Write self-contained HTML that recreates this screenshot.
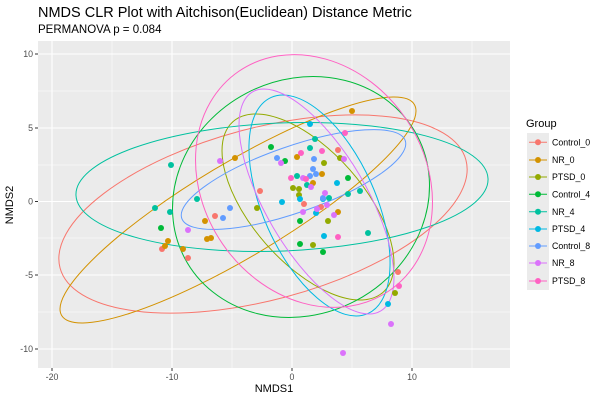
<!DOCTYPE html>
<html><head><meta charset="utf-8"><style>
body{margin:0;background:#fff;}
svg{display:block;font-family:"Liberation Sans","DejaVu Sans",sans-serif;}
</style></head><body>
<svg width="600" height="400" viewBox="0 0 600 400" xmlns="http://www.w3.org/2000/svg">
<rect width="600" height="400" fill="#fff"/>
<text x="38" y="17" font-size="14.5" fill="#000">NMDS CLR Plot with Aitchison(Euclidean) Distance Metric</text>
<text x="38" y="33" font-size="11.5" fill="#000">PERMANOVA p = 0.084</text>
<rect x="38" y="41" width="472" height="327" fill="#ebebeb"/>
<g stroke="#fff" stroke-width="0.55">
<line x1="112" y1="41" x2="112" y2="368"/><line x1="232" y1="41" x2="232" y2="368"/><line x1="352" y1="41" x2="352" y2="368"/><line x1="472" y1="41" x2="472" y2="368"/>
<line x1="38" y1="91" x2="510" y2="91"/><line x1="38" y1="165" x2="510" y2="165"/><line x1="38" y1="238" x2="510" y2="238"/><line x1="38" y1="312" x2="510" y2="312"/>
</g>
<g stroke="#fff" stroke-width="1.1">
<line x1="52" y1="41" x2="52" y2="368"/><line x1="172" y1="41" x2="172" y2="368"/><line x1="292" y1="41" x2="292" y2="368"/><line x1="412" y1="41" x2="412" y2="368"/>
<line x1="38" y1="54" x2="510" y2="54"/><line x1="38" y1="128" x2="510" y2="128"/><line x1="38" y1="201.5" x2="510" y2="201.5"/><line x1="38" y1="275" x2="510" y2="275"/><line x1="38" y1="349" x2="510" y2="349"/>
</g>
<g fill="none" stroke-width="1">
<ellipse cx="263" cy="214" rx="210" ry="86" transform="rotate(-14.9 263 214)" stroke="#F8766D"/>
<ellipse cx="238" cy="210" rx="205.5" ry="47" transform="rotate(-30.9 238 210)" stroke="#D39200"/>
<ellipse cx="308" cy="207" rx="113.6" ry="56" transform="rotate(48.7 308 207)" stroke="#93AA00"/>
<ellipse cx="301" cy="197" rx="131.4" ry="117.3" transform="rotate(-27.7 301 197)" stroke="#00BA38"/>
<ellipse cx="282" cy="187" rx="206.2" ry="64" transform="rotate(-2.3 282 187)" stroke="#00C19F"/>
<ellipse cx="319.5" cy="205.5" rx="118.4" ry="56.3" transform="rotate(65.9 319.5 205.5)" stroke="#00B9E3"/>
<ellipse cx="293.5" cy="179.5" rx="118.3" ry="33.1" transform="rotate(-19.2 293.5 179.5)" stroke="#619CFF"/>
<ellipse cx="316.5" cy="201.5" rx="126.9" ry="50.5" transform="rotate(59.7 316.5 201.5)" stroke="#DB72FB"/>
<ellipse cx="314" cy="181" rx="133" ry="111" transform="rotate(55.6 314 181)" stroke="#FF61C3"/>
</g>
<g fill="#F8766D"><circle cx="338" cy="150" r="3"/><circle cx="260" cy="191" r="3"/><circle cx="304" cy="204" r="3"/><circle cx="321" cy="207" r="3"/><circle cx="215" cy="216" r="3"/><circle cx="162" cy="249" r="3"/><circle cx="188" cy="258" r="3"/><circle cx="398" cy="272" r="3"/></g>
<g fill="#D39200"><circle cx="352" cy="111" r="3"/><circle cx="235" cy="158" r="3"/><circle cx="297" cy="157" r="3"/><circle cx="322" cy="174" r="3"/><circle cx="313" cy="183" r="3"/><circle cx="338" cy="212" r="3"/><circle cx="205" cy="221" r="3"/><circle cx="207" cy="239" r="3"/><circle cx="211" cy="238" r="3"/><circle cx="168" cy="241" r="3"/><circle cx="165" cy="246" r="3"/><circle cx="183" cy="249" r="3"/></g>
<g fill="#93AA00"><circle cx="324" cy="163" r="3"/><circle cx="340" cy="158" r="3"/><circle cx="293" cy="188" r="3"/><circle cx="299" cy="189" r="3"/><circle cx="299" cy="195" r="3"/><circle cx="257" cy="208" r="3"/><circle cx="328" cy="221" r="3"/><circle cx="313" cy="245" r="3"/><circle cx="395" cy="293" r="3"/></g>
<g fill="#00BA38"><circle cx="271" cy="147" r="3"/><circle cx="285" cy="161" r="3"/><circle cx="348" cy="178" r="3"/><circle cx="300" cy="221" r="3"/><circle cx="300" cy="244" r="3"/><circle cx="323" cy="252" r="3"/><circle cx="161" cy="228" r="3"/></g>
<g fill="#00C19F"><circle cx="315" cy="139" r="3"/><circle cx="310" cy="148" r="3"/><circle cx="297" cy="176" r="3"/><circle cx="307" cy="185" r="3"/><circle cx="329" cy="198" r="3"/><circle cx="348" cy="194" r="3"/><circle cx="360" cy="191" r="3"/><circle cx="368" cy="233" r="3"/><circle cx="171" cy="165" r="3"/><circle cx="197" cy="199" r="3"/><circle cx="155" cy="208" r="3"/><circle cx="170" cy="212" r="3"/></g>
<g fill="#00B9E3"><circle cx="310" cy="124" r="3"/><circle cx="337" cy="183" r="3"/><circle cx="300" cy="199" r="3"/><circle cx="282" cy="202" r="3"/><circle cx="323" cy="199" r="3"/><circle cx="316" cy="213" r="3"/><circle cx="324" cy="236" r="3"/><circle cx="388" cy="304" r="3"/></g>
<g fill="#619CFF"><circle cx="277" cy="158" r="3"/><circle cx="314" cy="159" r="3"/><circle cx="313" cy="169" r="3"/><circle cx="316" cy="174" r="3"/><circle cx="310" cy="176" r="3"/><circle cx="323" cy="198" r="3"/><circle cx="230" cy="208" r="3"/><circle cx="223" cy="218" r="3"/></g>
<g fill="#DB72FB"><circle cx="220" cy="161" r="3"/><circle cx="281" cy="163" r="3"/><circle cx="344" cy="159" r="3"/><circle cx="303" cy="178" r="3"/><circle cx="311" cy="187" r="3"/><circle cx="325" cy="193" r="3"/><circle cx="327" cy="205" r="3"/><circle cx="303" cy="212" r="3"/><circle cx="317" cy="209" r="3"/><circle cx="334" cy="215" r="3"/><circle cx="188" cy="230" r="3"/><circle cx="391" cy="324" r="3"/><circle cx="343" cy="353" r="3"/></g>
<g fill="#FF61C3"><circle cx="345" cy="133" r="3"/><circle cx="301" cy="153" r="3"/><circle cx="322" cy="151" r="3"/><circle cx="291" cy="178" r="3"/><circle cx="306" cy="179" r="3"/><circle cx="338" cy="237" r="3"/><circle cx="399" cy="286" r="3"/></g>
<g stroke="#333" stroke-width="1">
<line x1="52" y1="368" x2="52" y2="371"/><line x1="172" y1="368" x2="172" y2="371"/><line x1="292" y1="368" x2="292" y2="371"/><line x1="412" y1="368" x2="412" y2="371"/>
<line x1="35" y1="54" x2="38" y2="54"/><line x1="35" y1="128" x2="38" y2="128"/><line x1="35" y1="201.5" x2="38" y2="201.5"/><line x1="35" y1="275" x2="38" y2="275"/><line x1="35" y1="349" x2="38" y2="349"/>
</g>
<g font-size="8.8" fill="#4d4d4d" text-anchor="middle">
<text x="52" y="380">-20</text><text x="172" y="380">-10</text><text x="292" y="380">0</text><text x="412" y="380">10</text>
</g>
<g font-size="8.8" fill="#4d4d4d" text-anchor="end">
<text x="33" y="57">10</text><text x="33" y="131">5</text><text x="33" y="204.5">0</text><text x="33" y="278">-5</text><text x="33" y="352">-10</text>
</g>
<text x="274" y="392" font-size="11" text-anchor="middle">NMDS1</text>
<text x="0" y="0" font-size="11" text-anchor="middle" transform="translate(13 205) rotate(-90)">NMDS2</text>
<text x="526" y="127" font-size="11">Group</text>
<rect x="527" y="133" width="22" height="157" fill="#ebebeb"/>
<g font-size="8.8" fill="#000">
<g stroke-width="1"><line x1="529" y1="142.3" x2="547" y2="142.3" stroke="#F8766D"/><circle cx="538" cy="142.3" r="3" fill="#F8766D"/><text x="552" y="145.5" stroke="none">Control_0</text></g>
<g><line x1="529" y1="160" x2="547" y2="160" stroke="#D39200"/><circle cx="538" cy="160" r="3" fill="#D39200"/><text x="552" y="163">NR_0</text></g>
<g><line x1="529" y1="177" x2="547" y2="177" stroke="#93AA00"/><circle cx="538" cy="177" r="3" fill="#93AA00"/><text x="552" y="180">PTSD_0</text></g>
<g><line x1="529" y1="194.3" x2="547" y2="194.3" stroke="#00BA38"/><circle cx="538" cy="194.3" r="3" fill="#00BA38"/><text x="552" y="197.5">Control_4</text></g>
<g><line x1="529" y1="211.7" x2="547" y2="211.7" stroke="#00C19F"/><circle cx="538" cy="211.7" r="3" fill="#00C19F"/><text x="552" y="215">NR_4</text></g>
<g><line x1="529" y1="229" x2="547" y2="229" stroke="#00B9E3"/><circle cx="538" cy="229" r="3" fill="#00B9E3"/><text x="552" y="232">PTSD_4</text></g>
<g><line x1="529" y1="246" x2="547" y2="246" stroke="#619CFF"/><circle cx="538" cy="246" r="3" fill="#619CFF"/><text x="552" y="249">Control_8</text></g>
<g><line x1="529" y1="263" x2="547" y2="263" stroke="#DB72FB"/><circle cx="538" cy="263" r="3" fill="#DB72FB"/><text x="552" y="266">NR_8</text></g>
<g><line x1="529" y1="281" x2="547" y2="281" stroke="#FF61C3"/><circle cx="538" cy="281" r="3" fill="#FF61C3"/><text x="552" y="284">PTSD_8</text></g>
</g>
</svg>
</body></html>
